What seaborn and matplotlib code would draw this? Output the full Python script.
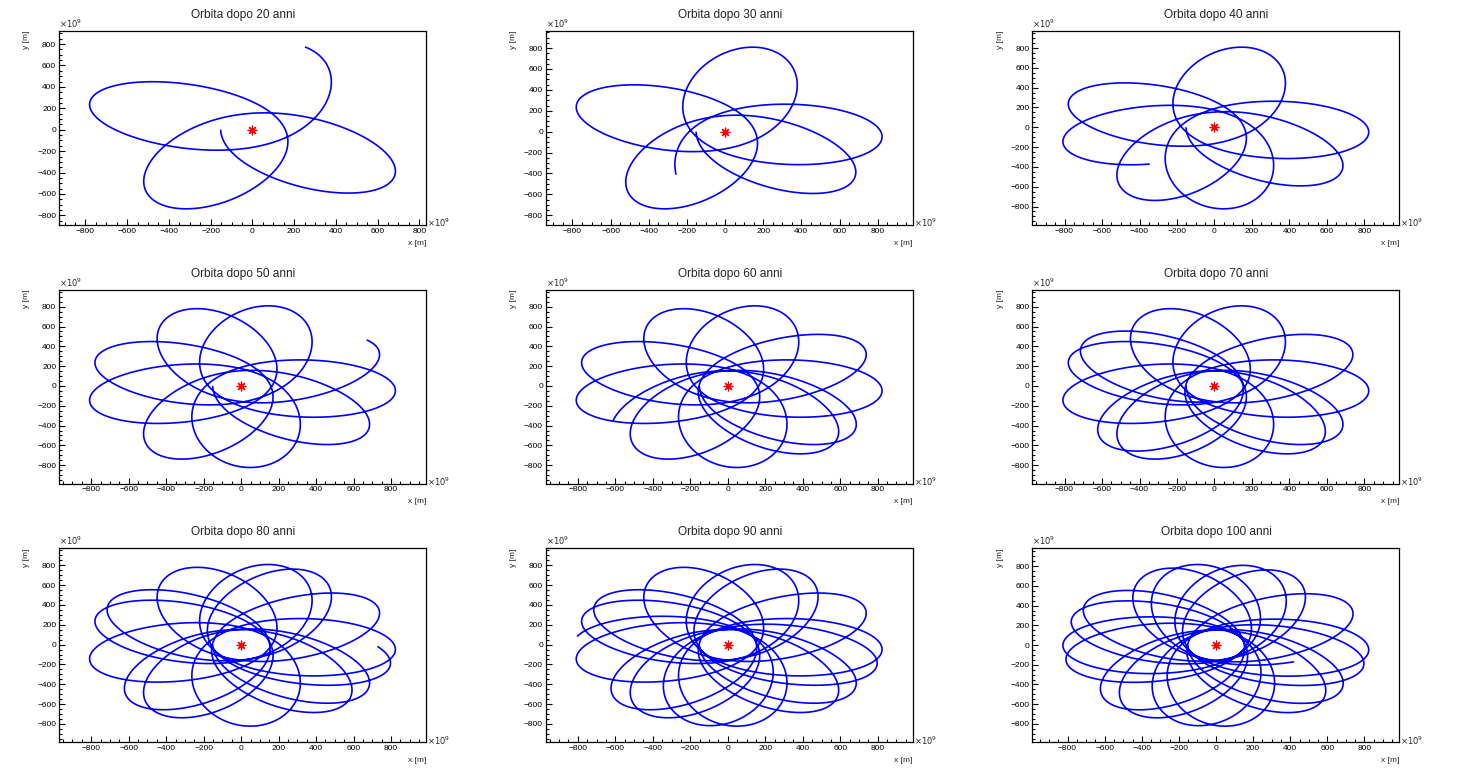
import numpy as np
import pandas as pd
import matplotlib
matplotlib.use("Agg")
import matplotlib.pyplot as plt
from matplotlib.ticker import MultipleLocator
import seaborn as sns

# anni simulati in ogni pannello
anni = [20, 30, 40, 50, 60, 70, 80, 90, 100]
titoli = [f"Orbita dopo {a} anni" for a in anni]

# parametri dell'orbita (distanze in 1e9 m)
r_peri = 152.0         # distanza minima dalla stella
r_afe = 825.0          # distanza massima dalla stella
periodo_rad = 5.84     # anni tra due perieli
passo_apsidi = 278.6   # gradi percorsi tra due perieli
theta_peri0 = 182.0    # direzione del primo perielio [gradi]
stella_x = [0.0]
stella_y = [0.0]


def traiettoria(t_fin, n_per_anno=300):
    t = np.linspace(0, t_fin, int(t_fin * n_per_anno) + 1)
    a = 0.5 * (r_peri + r_afe)
    e = (r_afe - r_peri) / (r_afe + r_peri)
    M = 2 * np.pi * t / periodo_rad
    E = M + e * np.sin(M)
    for _ in range(50):
        E = E - (E - e * np.sin(E) - M) / (1 - e * np.cos(E))
    beta = e / (1 + np.sqrt(1 - e**2))
    f = E + 2 * np.arctan(beta * np.sin(E) / (1 - beta * np.cos(E)))
    r = a * (1 - e * np.cos(E))
    theta = np.radians(theta_peri0) + f * passo_apsidi / 360.0
    return pd.DataFrame({"x": r * np.cos(theta), "y": r * np.sin(theta)})


sns.set_theme(style="white")
plt.rcParams["font.family"] = ["Liberation Sans", "DejaVu Sans"]

W, H = 1460, 776
fig = plt.figure(figsize=(W / 100, H / 100), dpi=100)
pad_w, pad_h = W / 3, H / 3
fs = 6.0

for i, anno in enumerate(anni):
    r, c = divmod(i, 3)
    left = (c * pad_w + 59) / W
    bottom = 1 - (r * pad_h + 225) / H
    ax = fig.add_axes([left, bottom, 367 / W, 194 / H])
    df = traiettoria(anno)
    sns.lineplot(data=df, x="x", y="y", sort=False, estimator=None,
                 color=(0, 0, 1), lw=1.2, ax=ax)
    sns.scatterplot(x=stella_x, y=stella_y, marker=(8, 2, 0), s=40,
                    color="red", edgecolor="red", linewidth=0.9, ax=ax, zorder=5)

    # margini del 10% come in ROOT
    dx = 0.1 * (df.x.max() - df.x.min())
    dy = 0.1 * (df.y.max() - df.y.min())
    ax.set_xlim(df.x.min() - dx, df.x.max() + dx)
    ax.set_ylim(df.y.min() - dy, df.y.max() + dy)

    ax.xaxis.set_major_locator(MultipleLocator(200))
    ax.xaxis.set_minor_locator(MultipleLocator(50))
    ax.yaxis.set_major_locator(MultipleLocator(200))
    ax.yaxis.set_minor_locator(MultipleLocator(50))
    ax.tick_params(which="both", direction="in", top=False, right=False,
                   left=True, bottom=True, colors="black", labelsize=fs, pad=2)
    ax.tick_params(which="major", length=4.5, width=0.8)
    ax.tick_params(which="minor", length=2.2, width=0.8)
    for sp in ax.spines.values():
        sp.set_color("black")
        sp.set_linewidth(0.9)
    ax.set_xlabel("")
    ax.set_ylabel("")

    ax.text(1.0, -0.075, "x [m]", transform=ax.transAxes, ha="right", va="top", fontsize=fs)
    ax.text(-0.078, 1.0, "y [m]", transform=ax.transAxes, ha="right", va="top",
            rotation=90, fontsize=fs)
    ax.text(0.0, 1.005, r"$\times10^{9}$", transform=ax.transAxes, ha="left", va="bottom", fontsize=fs)
    ax.text(1.003, 0.01, r"$\times10^{9}$", transform=ax.transAxes, ha="left", va="center", fontsize=fs)

    fig.text((c * pad_w + 243) / W, 1 - (r * pad_h + 15) / H, titoli[i],
             ha="center", va="center", fontsize=8.6)

fig.savefig("out.png", dpi=100)
